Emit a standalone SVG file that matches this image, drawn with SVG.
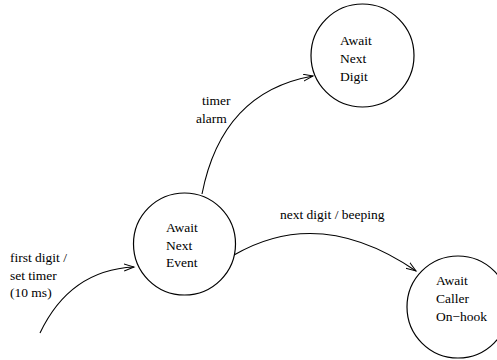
<svg xmlns="http://www.w3.org/2000/svg" width="497" height="360" viewBox="0 0 497 360">
  <style>
    .state { fill: #fff; stroke: #000; stroke-width: 1.2; }
    text { font-family: 'Liberation Serif', 'DejaVu Serif', serif; font-size: 13.5px; fill: #000; }
    .edge { fill: none; stroke: #000; stroke-width: 1.1; marker-end: url(#open); }
  </style>
  <defs>
    <marker id="open" markerWidth="12" markerHeight="10" refX="10" refY="4" orient="auto" markerUnits="userSpaceOnUse">
      <path d="M0,0.5 L10,4 L0,7.5" fill="none" stroke="#000" stroke-width="1"/>
    </marker>
  </defs>

  <g id="connectors">
    <path id="e-start" class="edge" d="M40,333 Q70,270 134,267"/>
    <path id="e-alarm" class="edge" d="M202,194 Q222,92 313,76"/>
    <path id="e-next" class="edge" d="M234,255 Q320,205 416,271"/>
  </g>

  <g id="labels" font-family="Liberation Serif, serif">
    <text x="10" y="262">first digit /</text>
    <text x="10" y="279.5">set timer</text>
    <text x="10" y="297">(10 ms)</text>
    <text x="202" y="105">timer</text>
    <text x="196" y="122.5">alarm</text>
    <text x="280" y="219">next digit / beeping</text>
  </g>

  <g id="await-next-event">
    <circle class="state" cx="184.5" cy="244" r="51"/>
    <text x="166" y="232">Await</text>
    <text x="166" y="249.5">Next</text>
    <text x="166" y="267">Event</text>
  </g>

  <g id="await-next-digit">
    <circle class="state" cx="362.5" cy="55.5" r="51.5"/>
    <text x="340" y="45">Await</text>
    <text x="340" y="63">Next</text>
    <text x="340" y="81">Digit</text>
  </g>

  <g id="await-caller-onhook">
    <circle class="state" cx="458" cy="307" r="51"/>
    <text x="436" y="285">Await</text>
    <text x="436" y="303">Caller</text>
    <text x="436" y="321">On−hook</text>
  </g>
</svg>
